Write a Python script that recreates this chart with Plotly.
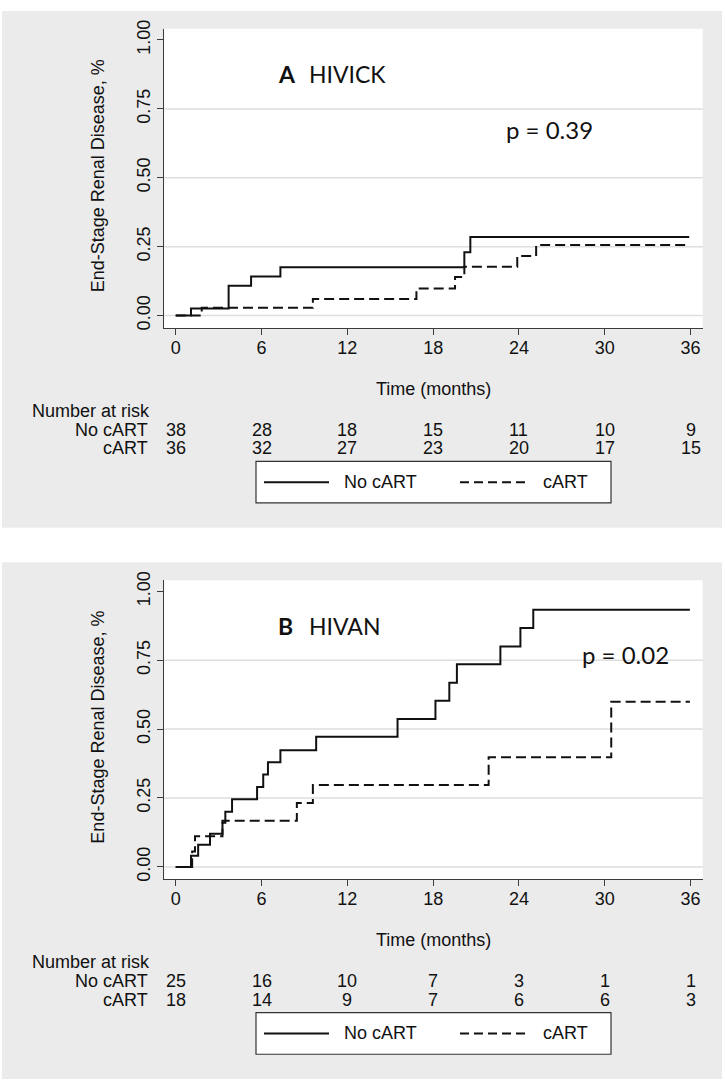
import plotly.graph_objects as go

W, H = 725, 1083

# ---------------- data ----------------
# Panel A: HIVICK (cumulative incidence of ESRD)
A_noart_t = [0, 1.07, 3.70, 5.27, 7.32, 20.18, 20.60, 35.90]
A_noart_s = [0, 0.026, 0.108, 0.142, 0.175, 0.230, 0.285, 0.285]
A_art_t = [0, 1.82, 9.59, 16.83, 19.53, 20.18, 23.88, 25.20, 35.95]
A_art_s = [0, 0.028, 0.060, 0.098, 0.140, 0.177, 0.216, 0.256, 0.256]

# Panel B: HIVAN
B_noart_t = [0, 1.07, 1.57, 2.40, 3.27, 3.47, 3.94, 5.69, 6.12, 6.45, 7.32, 9.82,
             15.51, 18.16, 19.13, 19.66, 22.70, 24.10, 25.00, 35.95]
B_noart_s = [0, 0.040, 0.080, 0.120, 0.160, 0.200, 0.245, 0.290, 0.335, 0.380, 0.423, 0.472,
             0.537, 0.603, 0.668, 0.735, 0.800, 0.867, 0.933, 0.933]
B_art_t = [0, 1.15, 1.35, 3.27, 8.47, 9.59, 21.88, 30.45, 35.95]
B_art_s = [0, 0.056, 0.111, 0.167, 0.232, 0.297, 0.398, 0.599, 0.599]

risk_times = [0, 6, 12, 18, 24, 30, 36]
A_risk_noart = [38, 28, 18, 15, 11, 10, 9]
A_risk_art = [36, 32, 27, 23, 20, 17, 15]
B_risk_noart = [25, 16, 10, 7, 3, 1, 1]
B_risk_art = [18, 14, 9, 7, 6, 6, 3]

y_ticks = [0, 0.25, 0.5, 0.75, 1.0]
grid_vals = [0, 0.25, 0.5, 0.75]
group_names = ["No cART", "cART"]

panels = [
    dict(letter="A", title="HIVICK", p="p = 0.39", p_x=504, p_y=122,
         noart=(A_noart_t, A_noart_s), art=(A_art_t, A_art_s),
         risk=(A_risk_noart, A_risk_art), off=0),
    dict(letter="B", title="HIVAN", p="p = 0.02", p_x=580, p_y=652 - 557,
         noart=(B_noart_t, B_noart_s), art=(B_art_t, B_art_s),
         risk=(B_risk_noart, B_risk_art), off=557),
]

# ---------------- layout helpers ----------------
def px(x):
    return x / W

def py(y):
    return 1 - y / H

ARIAL = "Liberation Sans, Arial, sans-serif"
TITLEF = "Lato, Open Sans, sans-serif"
INK = "#111111"
AXC = "#3c3c3c"

fig = go.Figure()
shapes = []
annotations = []
layout_axes = {}

for i, pn in enumerate(panels):
    off = pn["off"]
    n = "" if i == 0 else str(i + 1)
    xa, ya = "x" + n, "y" + n

    # gray panel and white plot region
    shapes.append(dict(type="rect", xref="paper", yref="paper", layer="below",
                       x0=px(2), x1=px(722), y0=py(2 + off), y1=py(524 + off),
                       fillcolor="#ebebeb", line=dict(width=0)))
    shapes.append(dict(type="rect", xref="paper", yref="paper", layer="below",
                       x0=px(164.3), x1=px(702.7), y0=py(20 + off), y1=py(322.3 + off),
                       fillcolor="white", line=dict(width=0)))
    for g in grid_vals:
        shapes.append(dict(type="line", xref=xa + " domain", yref=ya, layer="below",
                           x0=0, x1=1, y0=g, y1=g, line=dict(color="#dedede", width=1.5)))

    # curves
    t, s = pn["noart"]
    fig.add_trace(go.Scatter(x=t, y=s, mode="lines", line_shape="hv", name=group_names[0],
                             line=dict(color=INK, width=2), xaxis=xa, yaxis=ya, showlegend=False))
    t, s = pn["art"]
    fig.add_trace(go.Scatter(x=t, y=s, mode="lines", line_shape="hv", name=group_names[1],
                             line=dict(color=INK, width=2, dash="10px,5px"),
                             xaxis=xa, yaxis=ya, showlegend=False))

    dom_y = [py(322.3 + off), py(20 + off)]
    layout_axes["xaxis" + n] = dict(
        domain=[px(164.3), px(702.7)], range=[-0.797, 36.845], anchor=ya,
        tickvals=risk_times, ticks="outside", ticklen=6, tickwidth=1.2, tickcolor=AXC,
        ticklabelstandoff=-3,
        showline=True, linecolor=AXC, linewidth=1.2, showgrid=False, zeroline=False,
        tickfont=dict(family=ARIAL, size=18, color=INK), fixedrange=True)
    layout_axes["yaxis" + n] = dict(
        domain=dom_y, range=[-0.0453, 1.0406], anchor=xa,
        tickvals=y_ticks, ticktext=[f"{v:.2f}" for v in y_ticks], tickangle=-90,
        ticks="outside", ticklen=6, tickwidth=1.2, tickcolor=AXC,
        showline=True, linecolor=AXC, linewidth=1.2, showgrid=False, zeroline=False,
        tickfont=dict(family=ARIAL, size=18, color=INK), fixedrange=True)

    # titles inside the plot
    annotations.append(dict(xref="paper", yref="paper", x=px(276), y=py(66 + off),
                            xanchor="left", yanchor="middle", showarrow=False,
                            text="<b>" + pn["letter"] + "</b>",
                            font=dict(family=TITLEF, size=23, color=INK)))
    annotations.append(dict(xref="paper", yref="paper", x=px(307), y=py(66 + off),
                            xanchor="left", yanchor="middle", showarrow=False,
                            text=pn["title"], font=dict(family=TITLEF, size=23, color=INK)))
    annotations.append(dict(xref="paper", yref="paper", x=px(pn["p_x"]), y=py(pn["p_y"] + off),
                            xanchor="left", yanchor="middle", showarrow=False,
                            text=pn["p"], font=dict(family=TITLEF, size=24, color=INK)))
    # axis titles
    annotations.append(dict(xref="paper", yref="paper", x=px(98), y=py(168 + off),
                            xanchor="center", yanchor="middle", showarrow=False, textangle=-90,
                            text="End-Stage Renal Disease, %",
                            font=dict(family=ARIAL, size=18, color=INK)))
    annotations.append(dict(xref="paper", yref="paper", x=px(433.5), y=py(384 + off),
                            xanchor="center", yanchor="middle", showarrow=False,
                            text="Time (months)", font=dict(family=ARIAL, size=18, color=INK)))
    # number at risk
    annotations.append(dict(xref="paper", yref="paper", x=px(30), y=py(406 + off),
                            xanchor="left", yanchor="middle", showarrow=False,
                            text="Number at risk", font=dict(family=ARIAL, size=18, color=INK)))
    for gi, (gname, row_y) in enumerate(zip(group_names, [425, 444])):
        annotations.append(dict(xref="paper", yref="paper", x=px(150), y=py(row_y + off),
                                xanchor="right", yanchor="middle", showarrow=False,
                                text=gname, font=dict(family=ARIAL, size=18, color=INK)))
        for tt, nn in zip(risk_times, pn["risk"][gi]):
            annotations.append(dict(xref=xa, yref="paper", x=tt, y=py(row_y + off),
                                    xanchor="center", yanchor="middle", showarrow=False,
                                    text=str(nn), font=dict(family=ARIAL, size=18, color=INK)))

    # legend box
    shapes.append(dict(type="rect", xref="paper", yref="paper", layer="above",
                       x0=px(256), x1=px(611), y0=py(457 + off), y1=py(499 + off),
                       fillcolor="white", line=dict(color="#333333", width=1.2)))
    shapes.append(dict(type="line", xref="paper", yref="paper", layer="above",
                       x0=px(264), x1=px(329), y0=py(478 + off), y1=py(478 + off),
                       line=dict(color=INK, width=2)))
    shapes.append(dict(type="line", xref="paper", yref="paper", layer="above",
                       x0=px(460), x1=px(529), y0=py(478 + off), y1=py(478 + off),
                       line=dict(color=INK, width=2, dash="9px,5px")))
    annotations.append(dict(xref="paper", yref="paper", x=px(342), y=py(478 + off),
                            xanchor="left", yanchor="middle", showarrow=False,
                            text=group_names[0], font=dict(family=ARIAL, size=18, color=INK)))
    annotations.append(dict(xref="paper", yref="paper", x=px(541), y=py(478 + off),
                            xanchor="left", yanchor="middle", showarrow=False,
                            text=group_names[1], font=dict(family=ARIAL, size=18, color=INK)))

fig.update_layout(
    width=W, height=H, margin=dict(l=0, r=0, t=0, b=0),
    paper_bgcolor="white", plot_bgcolor="rgba(0,0,0,0)",
    showlegend=False, shapes=shapes, annotations=annotations, **layout_axes)

fig.write_html("out.html", config={"displayModeBar": False},
               post_script="document.body.style.margin='0';document.body.style.padding='0';"
                           "document.documentElement.style.overflow='hidden';")
